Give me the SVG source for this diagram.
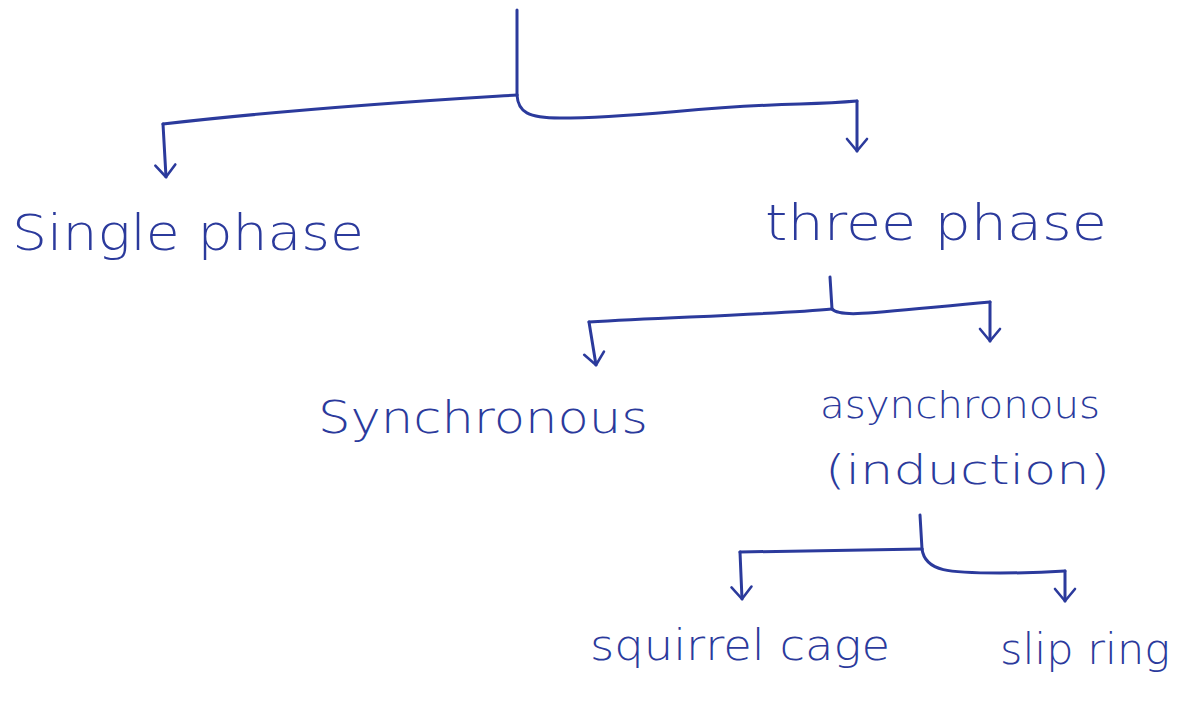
<svg xmlns="http://www.w3.org/2000/svg" width="1184" height="728" viewBox="0 0 1184 728">
  <defs>
    <style>
      .ink { fill: none; stroke: #2b3a9c; stroke-width: 3; stroke-linecap: round; stroke-linejoin: round; }
      .tip { marker-end: url(#vhead); }
      .label { fill: #2b3a9c; font-family: "DejaVu Sans", "Liberation Sans", sans-serif; font-weight: 300; }
    </style>
    <!-- open V arrowhead, drawn pointing along +x so orient="auto" follows the stroke -->
    <marker id="vhead" viewBox="0 0 20 24" refX="18" refY="12" markerWidth="20" markerHeight="24" markerUnits="userSpaceOnUse" orient="auto">
      <path d="M6 2 L18 12 L6 22" fill="none" stroke="#2b3a9c" stroke-width="2.6" stroke-linecap="round" stroke-linejoin="round"/>
    </marker>
  </defs>
  <rect width="1184" height="728" fill="#ffffff"/>

  <g id="connectors">
    <!-- root split -->
    <path class="ink" d="M517 10 L517 95"/>
    <path class="ink" d="M517 95 C470 98 320 106 163 124"/>
    <path class="ink tip" d="M163 124 L166 177"/>
    <path class="ink" d="M517 95 C518 112 528 118 560 118 C640 118 700 106 800 104 C830 103 845 102 857 101"/>
    <path class="ink tip" d="M857 101 L857 151"/>

    <!-- three phase split -->
    <path class="ink" d="M830 277 L832 309"/>
    <path class="ink" d="M832 309 C780 314 680 317 589 322"/>
    <path class="ink tip" d="M589 322 L596 365"/>
    <path class="ink" d="M832 309 C840 318 870 313 990 302"/>
    <path class="ink tip" d="M990 302 L990 341"/>

    <!-- induction split -->
    <path class="ink" d="M920 515 L922 549"/>
    <path class="ink" d="M922 549 C860 550 800 551 740 552"/>
    <path class="ink tip" d="M740 552 L742 599"/>
    <path class="ink" d="M922 549 C925 572 950 573 1000 573 C1030 573 1050 572 1065 571"/>
    <path class="ink tip" d="M1065 571 L1065 601"/>
  </g>

  <g id="node-single-phase">
    <text class="label" x="12" y="250" font-size="50" textLength="352" lengthAdjust="spacingAndGlyphs">Single phase</text>
  </g>
  <g id="node-three-phase">
    <text class="label" x="765" y="240" font-size="50" textLength="342" lengthAdjust="spacingAndGlyphs">three phase</text>
  </g>
  <g id="node-synchronous">
    <text class="label" x="318" y="433" font-size="44" textLength="330" lengthAdjust="spacingAndGlyphs">Synchronous</text>
  </g>
  <g id="node-asynchronous">
    <text class="label" x="820" y="418" font-size="38" textLength="280" lengthAdjust="spacingAndGlyphs">asynchronous</text>
    <text class="label" x="825" y="484" font-size="40" textLength="285" lengthAdjust="spacingAndGlyphs">(induction)</text>
  </g>
  <g id="node-squirrel-cage">
    <text class="label" x="590" y="660" font-size="42" textLength="300" lengthAdjust="spacingAndGlyphs">squirrel cage</text>
  </g>
  <g id="node-slip-ring">
    <text class="label" x="1000" y="664" font-size="42" textLength="170" lengthAdjust="spacingAndGlyphs">slip ring</text>
  </g>
</svg>
